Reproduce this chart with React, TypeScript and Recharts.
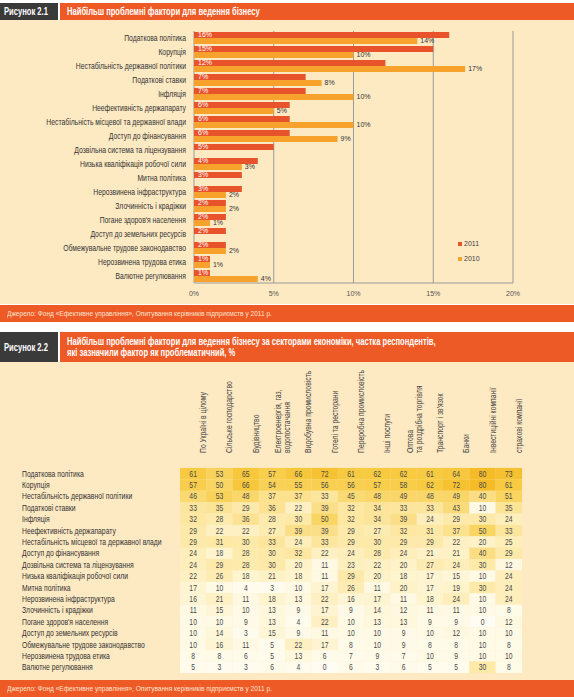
import React from "react";
import {
  Bar,
  BarChart,
  CartesianGrid,
  LabelList,
  Legend,
  Scatter,
  ScatterChart,
  XAxis,
  YAxis,
} from "recharts";

const factors = [
  "Податкова політика",
  "Корупція",
  "Нестабільність державної політики",
  "Податкові ставки",
  "Інфляція",
  "Неефективність держапарату",
  "Нестабільність місцевої та державної влади",
  "Доступ до фінансування",
  "Дозвільна система та ліцензування",
  "Низька кваліфікація робочої сили",
  "Митна політика",
  "Нерозвинена інфраструктура",
  "Злочинність і крадіжки",
  "Погане здоров'я населення",
  "Доступ до земельних ресурсів",
  "Обмежувальне трудове законодавство",
  "Нерозвинена трудова етика",
  "Валютне регулювання",
];

const share2011 = [16, 15, 12, 7, 7, 6, 6, 6, 5, 4, 3, 3, 2, 2, 2, 2, 1, 1];
const share2010 = [14, 10, 17, 8, 10, 5, 10, 9, null, 3, null, 2, 2, 1, null, 2, 1, 4];
const percentTicks = [0, 5, 10, 15, 20];

const sectors = [
  "По Україні в цілому",
  "Сільське господарство",
  "Будівництво",
  "Електроенергія, газ,\nводопостачання",
  "Видобувна промисловість",
  "Готелі та ресторани",
  "Переробна промисловість",
  "Інші послуги",
  "Оптова\nта роздрібна торгівля",
  "Транспорт і зв'язок",
  "Банки",
  "Інвестиційні компанії",
  "страхові компанії",
];

// one row per factor, one column per sector
const sectorShares = [
  [61, 53, 65, 57, 66, 72, 61, 62, 62, 61, 64, 80, 73],
  [57, 50, 66, 54, 55, 56, 56, 57, 58, 62, 72, 80, 61],
  [46, 53, 48, 37, 37, 33, 45, 48, 49, 48, 49, 40, 51],
  [33, 35, 29, 36, 22, 39, 32, 34, 33, 33, 43, 10, 35],
  [32, 28, 36, 28, 30, 50, 32, 34, 39, 24, 29, 30, 24],
  [29, 22, 22, 27, 39, 39, 29, 27, 32, 31, 37, 50, 33],
  [29, 31, 30, 33, 24, 33, 29, 30, 29, 29, 22, 20, 25],
  [24, 18, 28, 30, 32, 22, 24, 28, 24, 21, 21, 40, 29],
  [24, 29, 28, 30, 20, 11, 23, 22, 20, 27, 24, 30, 12],
  [22, 26, 18, 21, 18, 11, 29, 20, 18, 17, 15, 10, 24],
  [17, 10, 4, 3, 10, 17, 26, 11, 20, 17, 19, 30, 24],
  [16, 21, 11, 18, 13, 22, 16, 17, 11, 18, 24, 10, 24],
  [11, 15, 10, 13, 9, 17, 9, 14, 12, 11, 11, 10, 8],
  [10, 10, 9, 13, 4, 22, 10, 13, 13, 9, 9, 0, 12],
  [10, 14, 3, 15, 9, 11, 10, 10, 9, 10, 12, 10, 10],
  [10, 16, 11, 5, 22, 17, 8, 10, 9, 8, 8, 10, 8],
  [8, 8, 6, 5, 13, 6, 7, 9, 7, 10, 9, 10, 10],
  [5, 3, 3, 6, 4, 0, 6, 3, 6, 5, 5, 30, 8],
];

const FONT = "'Liberation Sans', Arial, sans-serif";
const NARROW = 0.8; // horizontal squeeze to imitate a condensed face
const ORANGE = "#ee5a26";
const DARK = "#3a3a3a";
const CREAM = "#fde9c2";
const RED_2011 = "#e8532b";
const ORANGE_2010 = "#f6a22c";
const CELL_W = 26.4;
const CELL_H = 11.5;

const factorRows = factors.map((name, i) => ({
  name,
  y2011: share2011[i],
  y2010: share2010[i],
}));

const heatCells = factors.flatMap((row, r) =>
  sectors.map((col, c) => ({ row, col, value: sectorShares[r][c] }))
);

const heatStops: [number, number[]][] = [
  [0, [255, 253, 243]],
  [10, [255, 250, 230]],
  [20, [254, 242, 200]],
  [30, [253, 233, 168]],
  [40, [251, 222, 132]],
  [50, [249, 213, 100]],
  [60, [247, 203, 66]],
  [80, [245, 188, 40]],
];

function heatColor(v: number) {
  for (let i = 1; i < heatStops.length; i++) {
    const [v1, c1] = heatStops[i];
    const [v0, c0] = heatStops[i - 1];
    if (v <= v1) {
      const t = (v - v0) / (v1 - v0);
      const c = c0.map((x, k) => Math.round(x + (c1[k] - x) * t));
      return `rgb(${c.join(",")})`;
    }
  }
  return "rgb(245,188,40)";
}

function NarrowText({ x, y, anchor = "start", size = 8.5, fill = "#333", rotate = 0, weight, children }: any) {
  return (
    <text
      transform={`translate(${x},${y}) rotate(${rotate}) scale(${NARROW},1)`}
      textAnchor={anchor}
      fontSize={size}
      fill={fill}
      fontFamily={FONT}
      fontWeight={weight}
    >
      {children}
    </text>
  );
}

function HeatCell(props: any) {
  const { cx, cy, payload } = props;
  if (cx == null || cy == null) return null;
  return (
    <g>
      <rect x={cx - CELL_W / 2} y={cy - CELL_H / 2} width={CELL_W} height={CELL_H} fill={heatColor(payload.value)} />
      <NarrowText x={cx} y={cy + 3} anchor="middle" size={8.5} fill="#4a4a4a">
        {payload.value}
      </NarrowText>
    </g>
  );
}

function SectorTick(props: any) {
  const { x, payload } = props;
  const lines = String(payload.value).split("\n");
  const base = lines.length > 1 ? x + 9 : x + 13;
  return (
    <NarrowText x={base} y={91} rotate={-90} size={8.5} fill="#444">
      {lines.map((line, i) => (
        <tspan key={line} x={0} dy={i === 0 ? 0 : 9}>
          {line}
        </tspan>
      ))}
    </NarrowText>
  );
}

function TableFactorTick(props: any) {
  const { y, payload } = props;
  return (
    <NarrowText x={22} y={y + 3} size={8.5} fill="#333">
      {payload.value}
    </NarrowText>
  );
}

function BarFactorTick(props: any) {
  const { x, y, payload } = props;
  return (
    <NarrowText x={x} y={y + 3} anchor="end" size={8.5} fill="#333">
      {payload.value}
    </NarrowText>
  );
}

function YearLegend(props: any) {
  const { payload = [] } = props;
  const items = [...payload].sort((a: any, b: any) => String(b.value).localeCompare(String(a.value)));
  return (
    <div style={{ fontFamily: FONT, fontSize: 7, color: "#444" }}>
      {items.map((p: any) => (
        <div key={p.value} style={{ display: "flex", alignItems: "center", height: 15 }}>
          <span style={{ width: 4, height: 4, background: p.color, marginRight: 2 }} />
          {p.value}
        </div>
      ))}
    </div>
  );
}

const pct = (v: any) => (v == null ? "" : `${v}%`);

function Squeezed({ children, scale }: any) {
  return (
    <span style={{ display: "inline-block", whiteSpace: "nowrap", transform: `scaleX(${scale})`, transformOrigin: "left center" }}>
      {children}
    </span>
  );
}

function Header({ top, height, label, children }: any) {
  return (
    <div style={{ position: "absolute", left: 0, top, width: 574, height, display: "flex", fontFamily: FONT }}>
      <div
        style={{
          width: 58,
          background: DARK,
          color: "#fff",
          fontWeight: "bold",
          fontSize: 10,
          display: "flex",
          alignItems: "center",
          paddingLeft: 4,
          boxSizing: "border-box",
          overflow: "hidden",
        }}
      >
        <Squeezed scale={0.76}>{label}</Squeezed>
      </div>
      <div
        style={{
          flex: 1,
          marginLeft: 2,
          background: ORANGE,
          color: "#fff",
          fontWeight: "bold",
          fontSize: 10,
          lineHeight: "11px",
          display: "flex",
          alignItems: "center",
          paddingLeft: 7,
          overflow: "hidden",
        }}
      >
        <Squeezed scale={0.76}>{children}</Squeezed>
      </div>
    </div>
  );
}

function Source({ top }: { top: number }) {
  return (
    <div
      style={{
        position: "absolute",
        left: 0,
        top,
        width: 574,
        height: 17,
        background: ORANGE,
        color: "#fde2cf",
        fontFamily: FONT,
        fontSize: 8,
        display: "flex",
        alignItems: "center",
        paddingLeft: 7,
        boxSizing: "border-box",
      }}
    >
      <Squeezed scale={0.82}>
        Джерело: Фонд «Ефективне управління», Опитування керівників підприємств у 2011 р.
      </Squeezed>
    </div>
  );
}

export default function App() {
  return (
    <div style={{ position: "absolute", left: 0, top: 0, width: 574, height: 700, background: "#fff", overflow: "hidden" }}>
      <Header top={3} height={17} label="Рисунок 2.1">
        Найбільш проблемні фактори для ведення бізнесу
      </Header>

      <div style={{ position: "absolute", left: 0, top: 20, width: 574, height: 284, background: CREAM }}>
        <BarChart
          width={574}
          height={282}
          layout="vertical"
          data={factorRows}
          margin={{ top: 11, right: 61, left: 0, bottom: 0 }}
          barSize={6}
          barGap={0}
          style={{ fontFamily: FONT }}
        >
          <CartesianGrid horizontal={false} stroke="#9a9a9a" />
          <XAxis
            type="number"
            domain={[0, 20]}
            ticks={percentTicks}
            tickFormatter={(v) => `${v}%`}
            height={19}
            axisLine={{ stroke: "#9a9a9a" }}
            tickLine={false}
            tick={{ fontSize: 7, fill: "#555" }}
          />
          <XAxis xAxisId="top" orientation="top" type="number" domain={[0, 20]} height={0} tick={false} tickLine={false} axisLine={{ stroke: "#9a9a9a" }} />
          <YAxis
            type="category"
            dataKey="name"
            width={194}
            interval={0}
            axisLine={false}
            tickLine={false}
            tick={<BarFactorTick />}
          />
          <Legend
            layout="vertical"
            align="center"
            verticalAlign="middle"
            wrapperStyle={{ left: 458, top: 216, width: 40 }}
            content={<YearLegend />}
          />
          <Bar dataKey="y2011" name="2011" fill={RED_2011} isAnimationActive={false}>
            <LabelList dataKey="y2011" position="insideLeft" offset={4} formatter={pct} fill="#fff" fontSize={7} />
          </Bar>
          <Bar dataKey="y2010" name="2010" fill={ORANGE_2010} isAnimationActive={false}>
            <LabelList dataKey="y2010" position="right" offset={3} formatter={pct} fill="#333" fontSize={7} />
          </Bar>
        </BarChart>
      </div>
      <Source top={305} />

      <Header top={332} height={30} label="Рисунок 2.2">
        Найбільш проблемні фактори для ведення бізнесу за секторами економіки, частка респондентів,
        <br />
        які зазначили фактор як проблематичний, %
      </Header>

      <div style={{ position: "absolute", left: 0, top: 362, width: 574, height: 318, background: CREAM }}>
        <ScatterChart width={574} height={314} margin={{ top: 4, right: 52, left: 0, bottom: 3 }}>
          <XAxis
            type="category"
            dataKey="col"
            orientation="top"
            allowDuplicatedCategory={false}
            height={102}
            interval={0}
            axisLine={false}
            tickLine={false}
            tick={<SectorTick />}
          />
          <YAxis
            type="category"
            dataKey="row"
            allowDuplicatedCategory={false}
            reversed
            width={180}
            interval={0}
            axisLine={false}
            tickLine={false}
            tick={<TableFactorTick />}
          />
          <Scatter data={heatCells} shape={<HeatCell />} isAnimationActive={false} />
        </ScatterChart>
      </div>
      <Source top={680} />
    </div>
  );
}
